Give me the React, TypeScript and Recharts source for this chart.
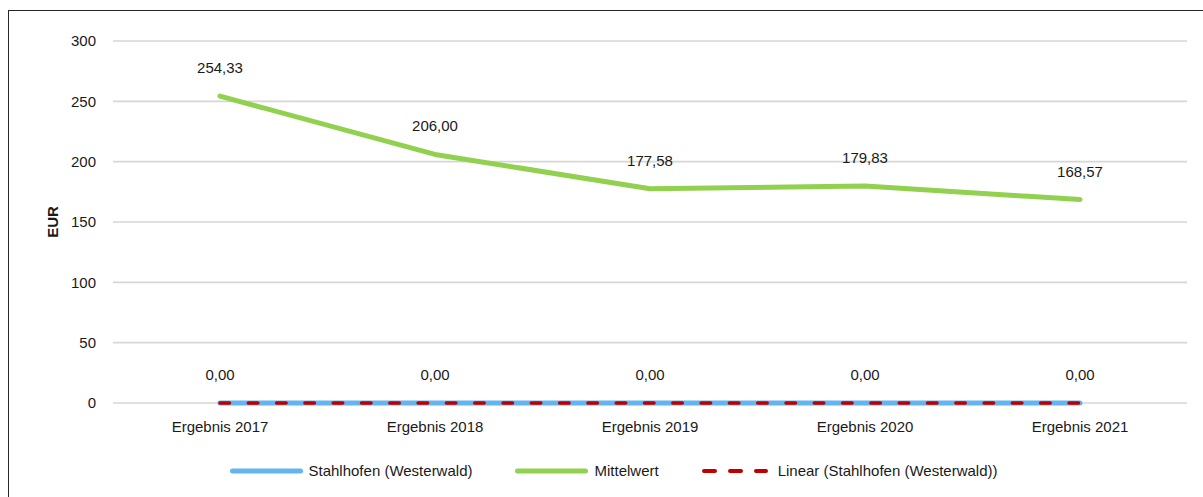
import React from "react";
import { LineChart, Line, XAxis, YAxis, CartesianGrid, Legend, LabelList } from "recharts";

const categories = ["Ergebnis 2017", "Ergebnis 2018", "Ergebnis 2019", "Ergebnis 2020", "Ergebnis 2021"];
const stahlhofen = [0, 0, 0, 0, 0];
const mittelwert = [254.33, 206.0, 177.58, 179.83, 168.57];
const linearTrend = [0, 0, 0, 0, 0];
const yTicks = [0, 50, 100, 150, 200, 250, 300];

const BLUE = "#63b4f0";
const GREEN = "#92d050";
const RED = "#c00000";
const TEXT = "#1a1a1a";

const data = categories.map((c, i) => ({
  kategorie: c,
  stahlhofen: stahlhofen[i],
  mittelwert: mittelwert[i],
  linear: linearTrend[i],
}));

const fmt = (v: any) => Number(v).toFixed(2).replace(".", ",");

const legendItems = [
  { name: "Stahlhofen (Westerwald)", color: BLUE, dashed: false },
  { name: "Mittelwert", color: GREEN, dashed: false },
  { name: "Linear (Stahlhofen (Westerwald))", color: RED, dashed: true },
];

function renderLegend() {
  return (
    <div style={{ display: "flex", justifyContent: "center", alignItems: "center", paddingLeft: 15 }}>
      {legendItems.map((it, i) => (
        <div key={it.name} style={{ display: "flex", alignItems: "center", marginLeft: i === 0 ? 0 : 43 }}>
          <svg width={it.dashed ? 66 : 73} height={10} style={{ display: "block" }}>
            {it.dashed ? (
              <line x1={2} y1={5} x2={64} y2={5} stroke={it.color} strokeWidth={4} strokeLinecap="round" strokeDasharray="11 15" />
            ) : (
              <line x1={2.5} y1={5} x2={70.5} y2={5} stroke={it.color} strokeWidth={5} strokeLinecap="round" />
            )}
          </svg>
          <span style={{ marginLeft: it.dashed ? 10 : 6, fontSize: 15, color: TEXT, lineHeight: "20px" }}>{it.name}</span>
        </div>
      ))}
    </div>
  );
}

export default function App() {
  return (
    <div
      style={{
        position: "fixed",
        left: 8,
        top: 10,
        width: 1300,
        height: 600,
        borderTop: "1px solid #262626",
        borderLeft: "1px solid #262626",
        background: "#fff",
        fontFamily: '"Liberation Sans", Arial, sans-serif',
      }}
    >
      <LineChart width={1194} height={486} data={data} margin={{ top: 30, right: 16, left: 0, bottom: 64 }}>
        <CartesianGrid vertical={false} stroke="#d6d6d6" strokeWidth={1.6} />
        <XAxis
          dataKey="kategorie"
          padding={{ left: 107, right: 107 }}
          axisLine={false}
          tickLine={false}
          tickMargin={12}
          height={30}
          tick={{ fill: TEXT, fontSize: 15 }}
          interval={0}
        />
        <YAxis
          width={104}
          domain={[0, 300]}
          ticks={yTicks}
          axisLine={false}
          tickLine={false}
          tickMargin={11}
          tick={{ fill: TEXT, fontSize: 15 }}
          label={{
            value: "EUR",
            content: (props: any) => {
              const vb = props.viewBox;
              const cx = vb.x + 43;
              const cy = vb.y + vb.height / 2;
              return (
                <text
                  x={cx}
                  y={cy}
                  transform={`rotate(-90 ${cx} ${cy})`}
                  textAnchor="middle"
                  dominantBaseline="central"
                  fontSize={15}
                  fontWeight="bold"
                  fill={TEXT}
                >
                  EUR
                </text>
              );
            },
          }}
        />
        <Legend verticalAlign="middle" align="center" content={renderLegend} wrapperStyle={{ top: 450, left: 0, width: 1194 }} />
        <Line
          dataKey="stahlhofen"
          stroke={BLUE}
          strokeWidth={5}
          strokeLinecap="round"
          dot={false}
          isAnimationActive={false}
        >
          <LabelList dataKey="stahlhofen" position="top" offset={23} formatter={fmt} fill={TEXT} fontSize={15} />
        </Line>
        <Line
          dataKey="mittelwert"
          stroke={GREEN}
          strokeWidth={5}
          strokeLinecap="round"
          strokeLinejoin="round"
          dot={false}
          isAnimationActive={false}
        >
          <LabelList dataKey="mittelwert" position="top" offset={23} formatter={fmt} fill={TEXT} fontSize={15} />
        </Line>
        <Line
          dataKey="linear"
          stroke={RED}
          strokeWidth={3.5}
          strokeDasharray="9.5 18.8"
          strokeLinecap="round"
          dot={false}
          isAnimationActive={false}
        />
      </LineChart>
    </div>
  );
}
